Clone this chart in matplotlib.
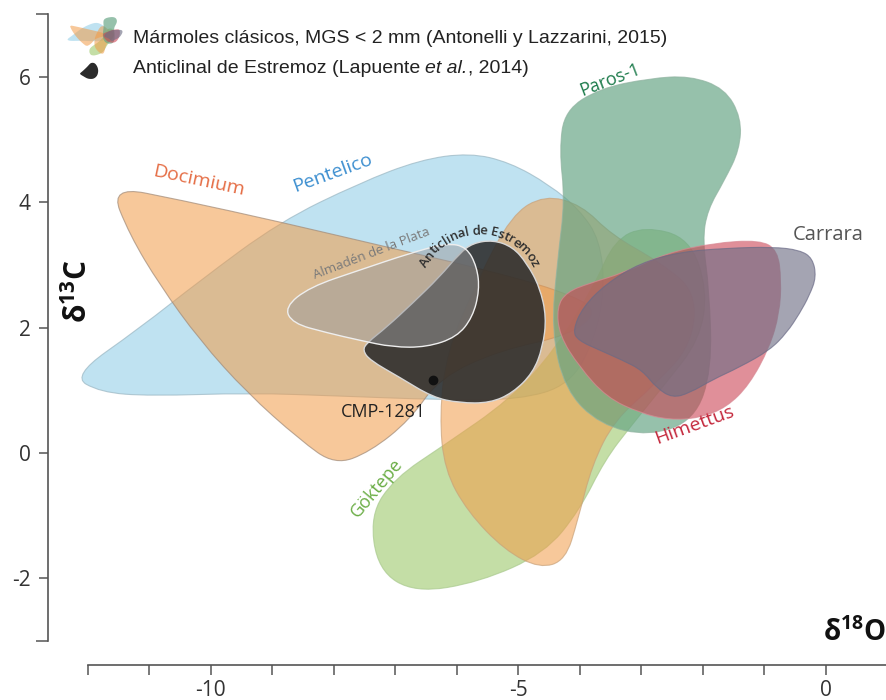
import numpy as np
import matplotlib
matplotlib.use("Agg")
import matplotlib.pyplot as plt
import matplotlib.transforms as mtransforms
from matplotlib.path import Path
from matplotlib.patches import PathPatch
from matplotlib.colors import to_rgba
from matplotlib.font_manager import FontProperties

plt.rcParams['font.family'] = ['Open Sans', 'DejaVu Sans']
plt.rcParams['axes.unicode_minus'] = False
plt.rcParams['mathtext.fontset'] = 'custom'
plt.rcParams['mathtext.rm'] = 'Liberation Sans'
plt.rcParams['mathtext.it'] = 'Liberation Sans:italic'
plt.rcParams['mathtext.bf'] = 'Open Sans:bold'

# isotope fields, outline vertices as (d18O, d13C)
pentelico = [(-12.26, 1.23), (-11.15, 2.00), (-10.18, 2.75), (-8.88, 3.69), (-7.58, 4.31),
             (-6.60, 4.68), (-5.79, 4.79), (-5.14, 4.64), (-4.49, 4.28), (-4.00, 3.88),
             (-3.67, 3.40), (-3.59, 2.60), (-3.76, 1.80), (-4.16, 1.09), (-4.98, 0.85),
             (-6.28, 0.85), (-7.90, 0.91), (-9.37, 0.96), (-10.99, 0.91), (-11.80, 0.97)]
docimium = [(-11.64, 4.26), (-10.50, 4.04), (-8.88, 3.69), (-6.93, 3.24), (-5.63, 2.95),
            (-4.33, 2.60), (-3.67, 2.28), (-4.16, 1.88), (-5.30, 1.64), (-6.28, 1.20),
            (-6.76, 0.53), (-7.41, 0.02), (-7.98, -0.19), (-8.55, 0.21), (-9.41, 0.96),
            (-10.18, 1.80), (-10.83, 2.68), (-11.32, 3.48)]
orange_field = [(-6.28, 0.61), (-6.16, 1.64), (-5.66, 2.76), (-5.11, 3.80), (-4.57, 4.12),
                (-3.97, 3.96), (-3.48, 3.48), (-2.70, 3.05), (-2.10, 2.57), (-2.18, 1.72),
                (-2.78, 1.09), (-3.43, 0.53), (-3.80, -0.19), (-4.03, -1.07), (-4.23, -1.71),
                (-4.65, -1.84), (-5.22, -1.55), (-5.82, -0.94), (-6.20, -0.27)]
goktepe = [(-2.94, 3.62), (-2.21, 3.43), (-1.92, 2.60), (-2.05, 1.80), (-2.62, 1.09),
           (-3.15, 0.45), (-3.59, -0.11), (-4.00, -0.91), (-4.57, -1.60), (-5.63, -2.06),
           (-6.68, -2.23), (-7.28, -1.87), (-7.41, -0.99), (-7.01, -0.40), (-6.20, 0.13),
           (-5.14, 0.85), (-4.41, 1.64), (-3.76, 2.68), (-3.43, 3.40)]
paros = [(-4.33, 4.84), (-4.24, 5.47), (-3.67, 5.82), (-2.86, 5.98), (-2.21, 6.02),
         (-1.64, 5.82), (-1.37, 5.35), (-1.40, 4.84), (-1.64, 4.36), (-1.92, 3.88),
         (-2.00, 3.40), (-1.89, 2.60), (-1.85, 1.32), (-2.13, 0.53), (-2.86, 0.27),
         (-3.67, 0.45), (-4.24, 1.01), (-4.46, 1.96), (-4.36, 3.08), (-4.24, 4.04)]
himettus = [(-4.37, 2.33), (-4.21, 2.57), (-3.84, 2.71), (-3.30, 2.87), (-2.59, 3.19),
            (-1.84, 3.35), (-1.07, 3.40), (-0.78, 3.24), (-0.72, 2.76), (-0.75, 2.23),
            (-0.91, 1.69), (-1.24, 1.09), (-1.61, 0.73), (-2.05, 0.56), (-2.54, 0.53),
            (-3.02, 0.64), (-3.56, 0.89), (-4.00, 1.37), (-4.33, 1.88)]
carrara = [(-4.11, 1.96), (-3.95, 2.33), (-3.56, 2.71), (-3.02, 3.03), (-2.37, 3.21),
           (-1.61, 3.27), (-0.86, 3.29), (-0.42, 3.24), (-0.21, 3.11), (-0.15, 2.81),
           (-0.26, 2.52), (-0.42, 2.23), (-0.63, 1.92), (-0.91, 1.64), (-1.40, 1.37),
           (-1.84, 1.17), (-2.21, 0.96), (-2.49, 0.88), (-2.75, 1.04), (-2.98, 1.32),
           (-3.30, 1.48), (-3.67, 1.64), (-4.03, 1.80)]
estremoz = [(-5.74, 3.35), (-5.41, 3.40), (-5.09, 3.29), (-4.86, 3.03), (-4.65, 2.65),
            (-4.54, 2.17), (-4.60, 1.69), (-4.76, 1.28), (-5.09, 0.96), (-5.46, 0.80),
            (-5.95, 0.80), (-6.39, 0.89), (-6.93, 1.21), (-7.41, 1.48), (-7.53, 1.64),
            (-7.46, 1.76), (-7.14, 2.01), (-6.72, 2.39), (-6.28, 2.81), (-5.95, 3.19)]
almaden = [(-8.80, 2.33), (-8.39, 2.65), (-7.58, 2.92), (-6.76, 3.19), (-6.16, 3.35),
           (-5.84, 3.29), (-5.67, 2.97), (-5.63, 2.60), (-5.74, 2.17), (-6.00, 1.85),
           (-6.49, 1.69), (-7.04, 1.69), (-7.58, 1.80), (-8.11, 1.92), (-8.67, 2.07)]

cmp_1281 = (-6.39, 1.17)


def smooth_path(pts):
    # closed outline: quadratic curves through edge midpoints
    pts = np.asarray(pts, float)
    mids = (pts + np.roll(pts, -1, axis=0)) / 2
    verts = [mids[-1]]
    codes = [Path.MOVETO]
    for p, m in zip(pts, mids):
        verts += [p, m]
        codes += [Path.CURVE3, Path.CURVE3]
    verts.append(mids[-1])
    codes.append(Path.CLOSEPOLY)
    return Path(verts, codes)


fig = plt.figure(figsize=(8.87, 7.0), dpi=100)
ax = fig.add_axes([0, 0, 1, 1])
ax.set_xlim(-13.43, 1.0)
ax.set_ylim(-3.94, 7.23)

# (outline, fill, alpha, edge) in drawing order
classic = [
    (pentelico, '#8ccbe6', 0.55, '#9ab6c2'),
    (goktepe, '#94c35d', 0.55, '#a9c98e'),
    (docimium, '#f29b47', 0.55, '#a08a78'),
    (orange_field, '#f29b47', 0.55, '#c9a27a'),
    (paros, '#65a484', 0.68, '#8fb3a0'),
    (himettus, '#cb3f50', 0.58, '#d88893'),
    (carrara, '#6d6d84', 0.62, '#6a6a86'),
]
for pts, fc, a, ec in classic:
    ax.add_patch(PathPatch(smooth_path(pts), facecolor=to_rgba(fc, a),
                           edgecolor=to_rgba(ec, 0.7), lw=0.8, zorder=2))

ax.add_patch(PathPatch(smooth_path(estremoz), facecolor=to_rgba('#2b2b2b', 0.88),
                       edgecolor='#d8d8d8', lw=1.0, zorder=3))
ax.add_patch(PathPatch(smooth_path(almaden), facecolor=to_rgba('#9a9a9c', 0.5),
                       edgecolor='#eeeeee', lw=1.0, zorder=4))
ax.plot(*cmp_1281, 'o', color='#111111', ms=6, zorder=5)

# field labels
ax.text(-10.20, 4.34, 'Docimium', color='#e56e46', fontsize=14, rotation=-12,
        ha='center', va='center')
ax.text(-8.02, 4.47, 'Pentelico', color='#3d8fd0', fontsize=14, rotation=20,
        ha='center', va='center')
ax.text(-7.38, 3.19, 'Almadén de la Plata', color='#7a7a7a', fontsize=9.6, rotation=21,
        ha='center', va='center', zorder=6)
ax.text(-3.51, 5.95, 'Paros-1', color='#1b7a4a', fontsize=13, rotation=21,
        ha='center', va='center')
ax.text(-0.54, 3.48, 'Carrara', color='#555555', fontsize=14.5, ha='left', va='center')
ax.text(-2.13, 0.45, 'Himettus', color='#c4283c', fontsize=14, rotation=20,
        ha='center', va='center')
ax.text(-7.30, -0.56, 'Göktepe', color='#6aad45', fontsize=13, rotation=50,
        ha='center', va='center')
ax.text(-7.19, 0.65, 'CMP-1281', color='#222222', fontsize=13, ha='center', va='center',
        zorder=6)

# curved label along the top of the Estremoz field
renderer = fig.canvas.get_renderer()
arc_prop = FontProperties(family='Open Sans', size=9.4, weight='semibold')
arc_text = 'Anticlinal de Estremoz'
widths = [renderer.get_text_width_height_descent(ch, arc_prop, ismath=False)[0]
          for ch in arc_text]
cx, cy = ax.transData.transform((-5.63, 2.54))
r = 63.0
theta0 = np.pi / 2 + sum(widths) / (2 * r)
run = 0.0
for ch, w in zip(arc_text, widths):
    th = theta0 - (run + w / 2) / r
    run += w
    x, y = ax.transData.inverted().transform((cx + r * np.cos(th), cy + r * np.sin(th)))
    ax.text(x, y, ch, fontproperties=arc_prop, color='#2e2e2e',
            rotation=np.degrees(th) - 90, ha='center', va='center',
            rotation_mode='anchor', zorder=6)

# legend
all_pts = np.vstack([np.asarray(p) for p, *_ in classic])
gx, gy = (all_pts.min(0) + all_pts.max(0)) / 2
icon = mtransforms.Affine2D().translate(-gx, -gy).scale(0.075).translate(-11.89, 6.65) + ax.transData
for pts, fc, a, ec in classic:
    ax.add_patch(PathPatch(smooth_path(pts), facecolor=to_rgba(fc, a), lw=0,
                           transform=icon, zorder=2))
ex = np.asarray(estremoz)
ecx, ecy = (ex.min(0) + ex.max(0)) / 2
icon2 = mtransforms.Affine2D().translate(-ecx, -ecy).scale(0.1).translate(-11.98, 6.10) + ax.transData
ax.add_patch(PathPatch(smooth_path(estremoz), facecolor='#2b2b2b', lw=0, transform=icon2))

leg_prop = dict(family='Liberation Sans', fontsize=14, color='#222222', va='center')
ax.text(-11.27, 6.62, 'Mármoles clásicos, MGS < 2 mm (Antonelli y Lazzarini, 2015)', **leg_prop)

# second entry: regular / italic / regular pieces laid end to end
inv = ax.transData.inverted()
pieces = [('Anticlinal de Estremoz (Lapuente', 'normal'), ('et al.', 'italic'),
          (', 2014)', 'normal')]
sp = FontProperties(family='Liberation Sans', size=14)
space_w = (renderer.get_text_width_height_descent('a a', sp, ismath=False)[0]
           - renderer.get_text_width_height_descent('aa', sp, ismath=False)[0])
x_disp = ax.transData.transform((-11.27, 6.13))[0]
for i, (s, style) in enumerate(pieces):
    if i == 1:
        x_disp += space_w
    t = ax.text(inv.transform((x_disp, 0))[0], 6.13, s, style=style, **leg_prop)
    x_disp = t.get_window_extent(renderer).x1

# axes
for side in ['top', 'right']:
    ax.spines[side].set_visible(False)
ax.spines['left'].set_position(('data', -12.65))
ax.spines['left'].set_bounds(-3, 7)
ax.spines['bottom'].set_position(('data', -3.38))
ax.spines['bottom'].set_bounds(-12, 1)
for side in ['left', 'bottom']:
    ax.spines[side].set_color('#555555')
    ax.spines[side].set_linewidth(1.2)

ax.set_xticks([-10, -5, 0])
ax.set_xticks(range(-12, 2), minor=True)
ax.set_yticks([-2, 0, 2, 4, 6])
ax.set_yticks([-3, 7], minor=True)
ax.tick_params(axis='x', which='both', direction='out', length=7, width=1.1,
               color='#555555', pad=4, labelsize=15, labelcolor='#333333')
ax.tick_params(axis='y', which='major', direction='out', length=6.5, width=1.1,
               color='#555555', pad=6, labelsize=15, labelcolor='#333333')
ax.tick_params(axis='y', which='minor', direction='out', length=8.6, width=1.1,
               color='#555555')

ax.text(-12.15, 2.585, r'δ$^{\mathbf{13}}$C', rotation=90, fontsize=21.5, fontweight='bold',
        color='#111111', ha='center', va='center')
ax.text(0.98, -2.87, r'δ$^{\mathbf{18}}$O', fontsize=20, fontweight='bold',
        color='#111111', ha='right', va='center')

fig.savefig('out.png', dpi=100)
